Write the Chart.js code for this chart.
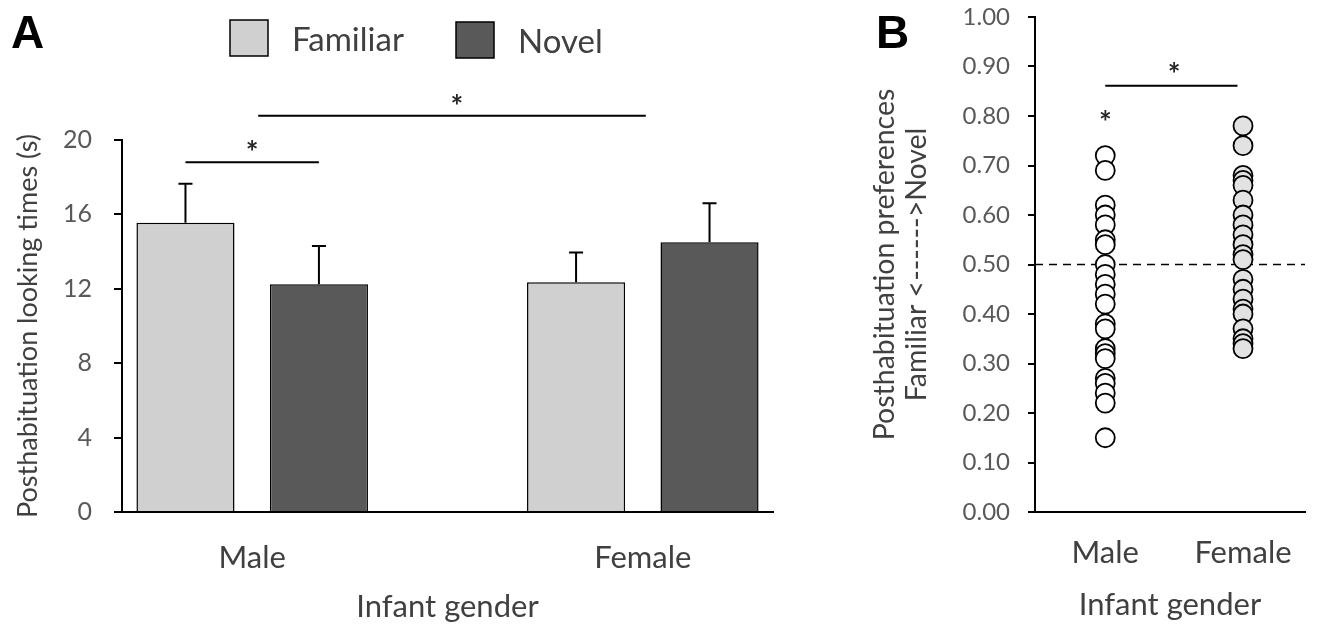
<!DOCTYPE html>
<html>
<head>
<meta charset="utf-8">
<script src="https://cdn.jsdelivr.net/npm/chart.js@4.4.1/dist/chart.umd.min.js"></script>
<style>
  html, body { margin: 0; padding: 0; background: #fff; }
  body { width: 1321px; height: 629px; position: relative; overflow: hidden; }
  canvas { position: absolute; top: 0; }
  #chartA { left: 0; }
  #chartB { left: 860px; }
</style>
</head>
<body>
<canvas id="chartA" width="820" height="629"></canvas>
<canvas id="chartB" width="461" height="629"></canvas>
<script>
// Panel A: mean looking times (s) with SE, by infant gender
const groups = ['Male', 'Female'];
const familiarMeans = [15.55, 12.35];
const familiarErrors = [2.1, 1.6];
const novelMeans = [12.25, 14.5];
const novelErrors = [2.05, 2.1];

// Panel B: individual posthabituation preference scores
const maleScores = [0.72, 0.69, 0.62, 0.60, 0.58, 0.55, 0.54, 0.50, 0.48, 0.46, 0.44,
    0.42, 0.38, 0.37, 0.33, 0.32, 0.31, 0.27, 0.26, 0.24, 0.22, 0.15];
const femaleScores = [0.78, 0.74, 0.68, 0.67, 0.66, 0.63, 0.60, 0.58, 0.56, 0.54, 0.52,
    0.51, 0.47, 0.45, 0.43, 0.41, 0.40, 0.37, 0.35, 0.34, 0.33];

// the bar axis has empty slots so groups sit where the original figure put them
const slotCount = 6;
const groupSlots = [1, 4];

const TICK_GREY = '#595959';
const TEXT_DARK = '#404040';
Chart.defaults.font.family = 'Lato, "Open Sans", sans-serif';
Chart.defaults.color = TICK_GREY;

function padToSlots(values) {
    const out = new Array(slotCount).fill(null);
    groupSlots.forEach((slot, i) => { out[slot] = values[i]; });
    return out;
}

function drawStar(ctx, x, cy) {
    ctx.save();
    ctx.fillStyle = '#262626';
    ctx.font = 'bold 30px Lato';
    ctx.textAlign = 'center';
    ctx.textBaseline = 'alphabetic';
    ctx.fillText('*', x, cy + 17);
    ctx.restore();
}

function drawLine(ctx, x1, x2, y) {
    ctx.save();
    ctx.strokeStyle = '#000';
    ctx.lineWidth = 2;
    ctx.beginPath();
    ctx.moveTo(x1, y);
    ctx.lineTo(x2, y);
    ctx.stroke();
    ctx.restore();
}

const panelLabel = {
    id: 'panelLabel',
    afterDraw(chart, args, opts) {
        const ctx = chart.ctx;
        ctx.save();
        ctx.fillStyle = '#000';
        ctx.font = 'bold 46px "Liberation Sans", Arial, sans-serif';
        ctx.textBaseline = 'alphabetic';
        ctx.fillText(opts.text, opts.x, opts.y);
        ctx.restore();
    }
};

const errorBars = {
    id: 'errorBars',
    afterDatasetsDraw(chart) {
        const { ctx, scales: { y } } = chart;
        ctx.save();
        ctx.strokeStyle = '#000';
        ctx.lineWidth = 2;
        chart.data.datasets.forEach((ds, d) => {
            chart.getDatasetMeta(d).data.forEach((bar, i) => {
                const v = ds.data[i];
                const e = ds.errors[i];
                if (v == null || e == null) return;
                const top = y.getPixelForValue(v + e);
                ctx.beginPath();
                ctx.moveTo(bar.x, bar.y);
                ctx.lineTo(bar.x, top);
                ctx.moveTo(bar.x - 7, top);
                ctx.lineTo(bar.x + 7, top);
                ctx.stroke();
            });
        });
        ctx.restore();
    }
};

// legend drawn by hand, the original has big square swatches
const boxLegend = {
    id: 'boxLegend',
    afterDraw(chart, args, opts) {
        const ctx = chart.ctx;
        ctx.save();
        chart.data.datasets.forEach((ds, i) => {
            const pos = opts.items[i];
            ctx.fillStyle = ds.backgroundColor;
            ctx.fillRect(pos.x, pos.y, 38, 36);
            ctx.strokeStyle = '#000';
            ctx.lineWidth = 1.5;
            ctx.strokeRect(pos.x, pos.y, 38, 36);
            ctx.fillStyle = TEXT_DARK;
            ctx.font = '33px Lato';
            ctx.textBaseline = 'middle';
            ctx.fillText(ds.label, pos.x + 62, pos.y + 20);
        });
        ctx.restore();
    }
};

const sigA = {
    id: 'sigA',
    afterDraw(chart) {
        const { ctx, scales: { x, y } } = chart;
        const fam = chart.getDatasetMeta(0).data[groupSlots[0]];
        const nov = chart.getDatasetMeta(1).data[groupSlots[0]];
        drawLine(ctx, fam.x, nov.x, y.getPixelForValue(18.8));
        drawStar(ctx, (fam.x + nov.x) / 2, y.getPixelForValue(19.7));

        const g1 = x.getPixelForValue(groupSlots[0]) + 6;
        const g2 = x.getPixelForValue(groupSlots[1]) + 3;
        drawLine(ctx, g1, g2, y.getPixelForValue(21.3));
        drawStar(ctx, (g1 + g2) / 2 + 5, y.getPixelForValue(22.15));
    }
};

const refLine = {
    id: 'refLine',
    beforeDatasetsDraw(chart) {
        const { ctx, chartArea, scales: { y } } = chart;
        const py = y.getPixelForValue(0.5);
        ctx.save();
        ctx.strokeStyle = '#000';
        ctx.lineWidth = 1.5;
        ctx.setLineDash([8, 6]);
        ctx.beginPath();
        ctx.moveTo(chartArea.left, py);
        ctx.lineTo(chartArea.right, py);
        ctx.stroke();
        ctx.restore();
    }
};

const sigB = {
    id: 'sigB',
    afterDatasetsDraw(chart) {
        const { ctx, scales: { x, y } } = chart;
        drawStar(ctx, x.getPixelForValue(1), y.getPixelForValue(0.80));
        drawLine(ctx, x.getPixelForValue(1), x.getPixelForValue(1.96), y.getPixelForValue(0.861));
        drawStar(ctx, x.getPixelForValue(1.5), y.getPixelForValue(0.897));
    }
};

const slotLabels = padToSlots(groups).map(v => v || '');

new Chart(document.getElementById('chartA'), {
    type: 'bar',
    data: {
        labels: slotLabels,
        datasets: [{
            label: 'Familiar',
            data: padToSlots(familiarMeans),
            errors: padToSlots(familiarErrors),
            backgroundColor: '#d0d0d0',
            borderColor: '#000',
            borderWidth: 1.5
        }, {
            label: 'Novel',
            data: padToSlots(novelMeans),
            errors: padToSlots(novelErrors),
            backgroundColor: '#595959',
            borderColor: '#000',
            borderWidth: 1.5
        }]
    },
    options: {
        responsive: false,
        animation: false,
        barPercentage: 0.735,
        categoryPercentage: 2.05,
        layout: { padding: { left: 0, right: 47, top: 140, bottom: 0 } },
        plugins: {
            legend: { display: false },
            tooltip: { enabled: false },
            panelLabel: { text: 'A', x: 11, y: 48 },
            boxLegend: { items: [{ x: 230, y: 20 }, { x: 456, y: 22 }] }
        },
        scales: {
            x: {
                offset: false,
                grid: { display: false, drawTicks: false },
                border: { color: '#000', width: 2 },
                ticks: {
                    autoSkip: false,
                    maxRotation: 0,
                    padding: 27,
                    color: TEXT_DARK,
                    font: { size: 31 }
                },
                title: {
                    display: true,
                    text: 'Infant gender',
                    color: TEXT_DARK,
                    font: { size: 31 },
                    padding: { top: 0, bottom: 3 }
                },
                afterFit: s => { s.height = 629 - 512; }
            },
            y: {
                min: 0,
                max: 20,
                ticks: { stepSize: 4, padding: 22, color: TICK_GREY, font: { size: 25 } },
                grid: { drawOnChartArea: false, drawTicks: true, tickLength: 8, color: '#000', lineWidth: 2 },
                border: { color: '#000', width: 2 },
                title: {
                    display: true,
                    text: 'Posthabituation looking times (s)',
                    color: TEXT_DARK,
                    font: { size: 27 },
                    padding: { top: 12, bottom: 0 }
                },
                afterFit: s => { s.width = 122; }
            }
        }
    },
    plugins: [errorBars, boxLegend, sigA, panelLabel]
});

new Chart(document.getElementById('chartB'), {
    type: 'scatter',
    data: {
        datasets: [{
            label: 'Male',
            data: maleScores.map(v => ({ x: 1, y: v })),
            backgroundColor: '#fff',
            borderColor: '#000',
            borderWidth: 1.8,
            pointRadius: 9.5
        }, {
            label: 'Female',
            data: femaleScores.map(v => ({ x: 2, y: v })),
            backgroundColor: '#e2e2e2',
            borderColor: '#000',
            borderWidth: 1.8,
            pointRadius: 9.5
        }]
    },
    options: {
        responsive: false,
        animation: false,
        layout: { padding: { left: 0, right: 16, top: 17, bottom: 0 } },
        plugins: {
            legend: { display: false },
            tooltip: { enabled: false },
            panelLabel: { text: 'B', x: 16, y: 48 }
        },
        scales: {
            x: {
                type: 'linear',
                min: 0.49,
                max: 2.45,
                afterBuildTicks: s => { s.ticks = groups.map((g, i) => ({ value: i + 1 })); },
                grid: { display: false, drawTicks: false },
                border: { color: '#000', width: 2 },
                ticks: {
                    padding: 22,
                    color: TEXT_DARK,
                    font: { size: 31 },
                    callback: v => groups[v - 1]
                },
                title: {
                    display: true,
                    text: 'Infant gender',
                    color: TEXT_DARK,
                    font: { size: 31 },
                    padding: { top: 0, bottom: 5 }
                },
                afterFit: s => { s.height = 629 - 512; }
            },
            y: {
                min: 0,
                max: 1,
                ticks: {
                    stepSize: 0.1,
                    padding: 18,
                    color: TICK_GREY,
                    font: { size: 24 },
                    callback: v => v.toFixed(2)
                },
                grid: { drawOnChartArea: false, drawTicks: true, tickLength: 7, color: '#000', lineWidth: 2 },
                border: { color: '#000', width: 2 },
                title: {
                    display: true,
                    text: ['Posthabituation preferences', 'Familiar <------>Novel'],
                    color: TEXT_DARK,
                    font: { size: 28.5, lineHeight: 1.12 },
                    padding: { top: 9, bottom: 0 }
                },
                // keep the label overhang from pushing the plot down
                afterFit: s => { s.width = 175; s.paddingTop = 12; s.paddingBottom = 12; }
            }
        }
    },
    plugins: [refLine, sigB, panelLabel]
});
</script>
</body>
</html>
